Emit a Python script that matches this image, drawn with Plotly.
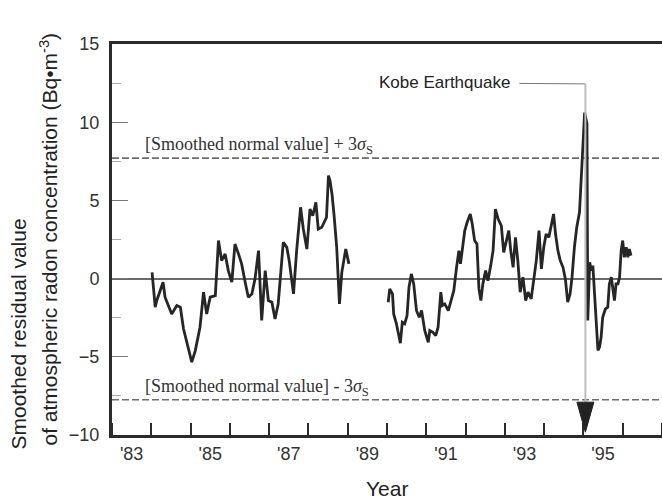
import plotly.graph_objects as go

# Smoothed residual of atmospheric radon concentration (Bq/m^3), decimal years
seg1_years = [1984.02, 1984.10, 1984.14, 1984.23, 1984.30, 1984.35, 1984.44, 1984.52,
              1984.65, 1984.74, 1984.82, 1984.91, 1985.03, 1985.12, 1985.24, 1985.33,
              1985.41, 1985.50, 1985.63, 1985.71, 1985.79, 1985.88, 1985.96, 1986.05,
              1986.13, 1986.22, 1986.30, 1986.39, 1986.47, 1986.56, 1986.64, 1986.73,
              1986.81, 1986.90, 1986.98, 1987.07, 1987.15, 1987.23, 1987.36, 1987.45,
              1987.51, 1987.62, 1987.70, 1987.80, 1987.87, 1987.96, 1988.04, 1988.11,
              1988.19, 1988.25, 1988.34, 1988.46, 1988.51, 1988.55, 1988.60, 1988.65,
              1988.72, 1988.79, 1988.85, 1988.95, 1989.03]
seg1_values = [0.40, -1.83, -1.40, -0.66, -0.23, -1.19, -1.83, -2.26,
               -1.72, -1.83, -3.21, -4.17, -5.34, -4.60, -3.11, -0.87,
               -2.26, -1.19, -1.09, 2.43, 1.15, 1.58, 0.51, -0.23,
               2.21, 1.58, 0.94, -0.23, -1.19, -0.98, -0.02, 1.79,
               -2.68, 0.51, -1.40, -1.51, -2.58, -1.62, 2.32, 2.00,
               1.15, -0.98, 1.79, 4.56, 3.17, 1.89, 4.45, 4.02,
               4.87, 3.17, 3.28, 3.92, 6.58, 6.26, 5.41, 4.13,
               2.00, -1.62, 0.40, 1.89, 0.94]

seg2_years = [1990.03, 1990.07, 1990.14, 1990.17, 1990.24, 1990.28, 1990.34, 1990.39,
              1990.45, 1990.51, 1990.56, 1990.62, 1990.68, 1990.75, 1990.82, 1990.88,
              1990.96, 1991.05, 1991.09, 1991.17, 1991.24, 1991.30, 1991.37, 1991.41,
              1991.47, 1991.56, 1991.64, 1991.70, 1991.77, 1991.83, 1991.87, 1991.92,
              1991.98, 1992.04, 1992.12, 1992.17, 1992.23, 1992.29, 1992.34, 1992.39,
              1992.44, 1992.51, 1992.57, 1992.64, 1992.70, 1992.76, 1992.83, 1992.91,
              1992.97, 1993.04, 1993.10, 1993.15, 1993.21, 1993.27, 1993.33, 1993.39,
              1993.46, 1993.53, 1993.59, 1993.67, 1993.74, 1993.80, 1993.87, 1993.93,
              1993.99, 1994.05, 1994.12, 1994.18, 1994.24, 1994.29, 1994.35, 1994.41,
              1994.48, 1994.54, 1994.60, 1994.66, 1994.71, 1994.77, 1994.83, 1994.90,
              1994.94, 1994.97, 1995.03, 1995.09, 1995.11, 1995.16, 1995.20, 1995.24,
              1995.28, 1995.32, 1995.37, 1995.41, 1995.45, 1995.49, 1995.56, 1995.62,
              1995.66, 1995.71, 1995.75, 1995.79, 1995.83, 1995.88, 1995.92, 1995.96,
              1996.00, 1996.04, 1996.09, 1996.13, 1996.17, 1996.21]
seg2_values = [-1.51, -0.66, -0.98, -2.26, -2.89, -3.43, -4.13, -2.79,
               -2.89, -2.36, -0.55, 0.30, -0.34, -2.04, -2.47, -2.04,
               -3.32, -4.07, -3.32, -3.43, -3.64, -3.11, -0.87, -1.72,
               -1.62, -2.04, -1.40, -0.77, 0.72, 1.79, 0.94, 2.00,
               3.07, 3.60, 4.13, 3.49, 2.43, 2.21, -0.66, -1.40,
               -0.34, 0.51, -0.13, 0.83, 1.79, 4.45, 3.81, 3.38,
               1.68, 2.43, 3.07, 1.79, 0.72, 2.64, 1.15, -0.87,
               0.09, -1.40, -0.87, -1.30, 0.09, 1.15, 3.07, 0.62,
               2.00, 2.85, 2.64, 3.28, 4.13, 2.85, 1.79, 1.15,
               0.72, -0.02, -1.51, -0.98, 0.09, 2.00, 3.28, 4.24,
               6.05, 8.17, 10.62, 9.90, -2.68, 1.04, 0.51, 0.83,
               -0.98, -3.11, -4.60, -4.38, -3.75, -2.47, -1.94, -1.83,
               -0.34, 0.09, -0.77, -1.40, -0.34, -0.34, 0.09, 1.79,
               2.43, 1.36, 2.00, 1.36, 1.89, 1.47]

# [Smoothed normal value] +/- 3 sigma_S
sigma_limits = [7.7, -7.75]
sigma_labels = ["[Smoothed normal value] + 3<i>σ</i><sub>S</sub>",
                "[Smoothed normal value] - 3<i>σ</i><sub>S</sub>"]

# Year axis: labels sit in the middle of each labelled year
year_label_vals = [1983.5, 1985.5, 1987.5, 1989.5, 1991.5, 1993.5, 1995.5]
year_label_text = ["'83", "'85", "'87", "'89", "'91", "'93", "'95"]

kobe_quake = 1995.05      # 17 January 1995
kobe_label_y = 12.45

X_RANGE = [1983, 1997]
Y_RANGE = [-10, 15]

SANS = "Liberation Sans, Arial, sans-serif"
SERIF = "Liberation Serif, Times New Roman, serif"
INK = "#2b2b2b"

fig = go.Figure()

# Sigma limit lines
for lim in sigma_limits:
    fig.add_trace(go.Scatter(
        x=X_RANGE, y=[lim, lim], mode="lines",
        line=dict(color="#6e6e6e", width=1.6, dash="7px,3px"),
        hoverinfo="skip", showlegend=False))

# Radon residual series (gap between the two records)
for xs, ys in [(seg1_years, seg1_values), (seg2_years, seg2_values)]:
    fig.add_trace(go.Scatter(
        x=xs, y=ys, mode="lines",
        line=dict(color="#262626", width=2.8),
        showlegend=False))

# Leader line from the label down to the axis
fig.add_shape(type="line", xref="x", yref="y",
              x0=kobe_quake, x1=kobe_quake, y0=kobe_label_y, y1=sigma_limits[1] - 0.15,
              line=dict(color="#bdbdbd", width=2), layer="above")
# Arrowhead (pixel-sized, anchored at the quake date)
fig.add_shape(type="path", xref="x", yref="y",
              xsizemode="pixel", ysizemode="pixel",
              xanchor=kobe_quake, yanchor=sigma_limits[1] - 0.15,
              path="M-8.5,0 L8.5,0 L0,-30 Z",
              fillcolor="#222222", line=dict(color="#222222", width=1), layer="above")

fig.add_annotation(x=kobe_quake, y=kobe_label_y, xref="x", yref="y",
                   text="Kobe Earthquake", showarrow=True, arrowhead=0,
                   arrowcolor="#777777", arrowwidth=1, ax=-141, ay=-1,
                   startstandoff=8, standoff=0,
                   font=dict(family=SANS, size=17, color="#222222"))

for lim, txt in zip(sigma_limits, sigma_labels):
    fig.add_annotation(x=1983.78, y=lim, xref="x", yref="y", text=txt,
                       showarrow=False, xanchor="left", yanchor="bottom", yshift=-1,
                       font=dict(family=SERIF, size=18, color="#333333"))

# Axis titles
fig.add_annotation(xref="paper", yref="paper", x=(18 - 112) / 550, y=(435 - 452) / 391,
                   text="Smoothed residual value", textangle=-90, showarrow=False,
                   xanchor="center", yanchor="bottom",
                   font=dict(family=SANS, size=21, color="#222222"))
fig.add_annotation(xref="paper", yref="paper", x=(48 - 112) / 550, y=(435 - 448) / 391,
                   text="of atmospheric radon concentration (Bq•m<sup>-3</sup>)",
                   textangle=-90, showarrow=False, xanchor="center", yanchor="bottom",
                   font=dict(family=SANS, size=21, color="#222222"))
fig.add_annotation(xref="paper", yref="paper", x=0.5, y=(435 - 488) / 391,
                   text="Year", showarrow=False, xanchor="center", yanchor="middle",
                   font=dict(family=SANS, size=21, color="#222222"))

fig.update_layout(
    width=662, height=503,
    margin=dict(l=112, r=0, t=44, b=68),
    paper_bgcolor="white", plot_bgcolor="white",
    showlegend=False,
    xaxis=dict(range=X_RANGE, showgrid=False, zeroline=False,
               showline=True, linecolor=INK, linewidth=3, mirror=True,
               tickvals=year_label_vals, ticktext=year_label_text, ticks="",
               ticklabelstandoff=0,
               tickfont=dict(family=SANS, size=18, color="#333333"),
               minor=dict(ticks="inside", ticklen=12, tickwidth=1.5, tickcolor=INK,
                          tick0=1983, dtick=1, showgrid=False)),
    yaxis=dict(range=Y_RANGE, showgrid=False,
               zeroline=True, zerolinecolor="#6a6a6a", zerolinewidth=2,
               showline=True, linecolor=INK, linewidth=3, mirror=False,
               tickvals=[-10, -5, 0, 5, 10, 15], ticks="inside", ticklen=16,
               tickwidth=1, tickcolor="#777777", ticklabelstandoff=6,
               tickfont=dict(family=SANS, size=18, color="#333333"),
               minor=dict(ticks="inside", ticklen=9, tickwidth=1, tickcolor="#aaaaaa",
                          tick0=0, dtick=2.5, showgrid=False)),
)

fig.write_html("out.html")
